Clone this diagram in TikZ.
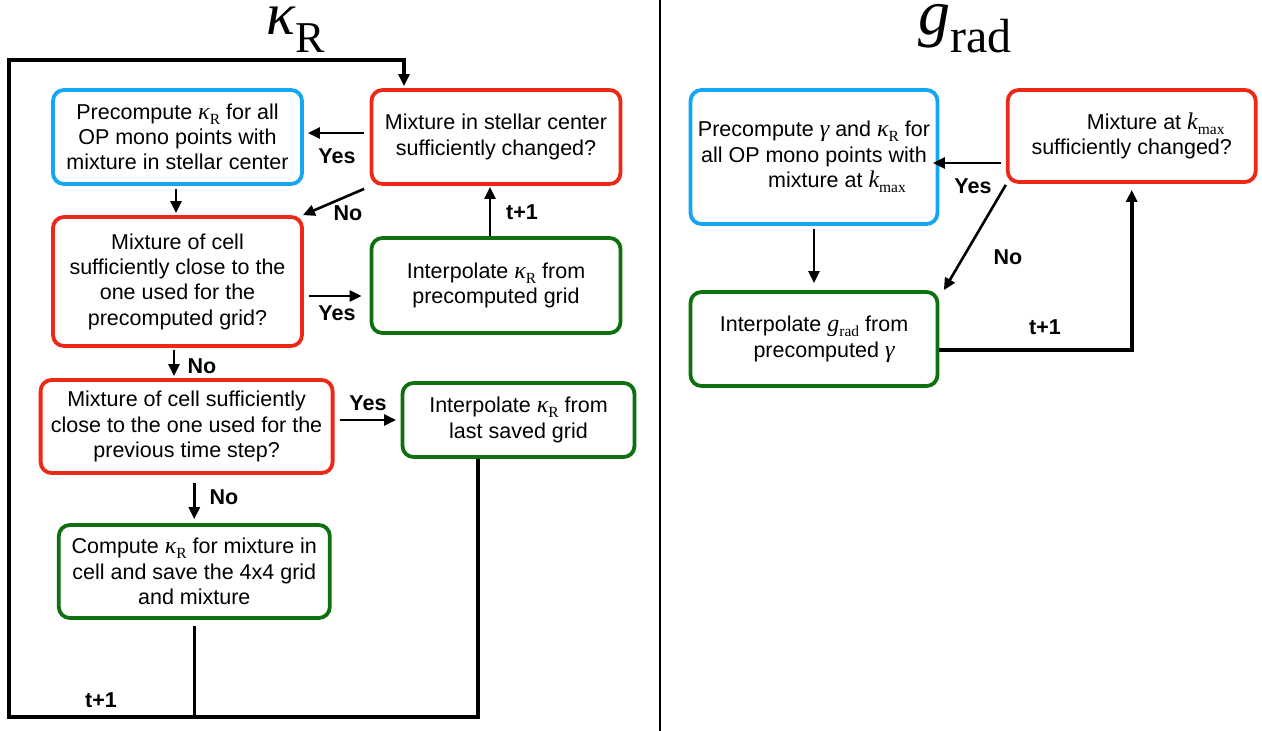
\documentclass[tikz,border=0pt]{standalone}
\usepackage{fontspec}
\setmainfont{Liberation Sans}
\newfontfamily\tms{Liberation Serif}
\usetikzlibrary{arrows.meta}
\definecolor{boxblue}{RGB}{20,165,245}
\definecolor{boxred}{RGB}{236,40,22}
\definecolor{boxgreen}{RGB}{14,112,14}
\newcommand{\mysubs}[1]{\raisebox{-5pt}{\tms\fontsize{15.5}{15.5}\selectfont #1}}
\newcommand{\mysym}[1]{{\tms\itshape\fontsize{24}{24}\selectfont #1}}
\newcommand{\mykR}{\mysym{κ}\mysubs{R}}
\newcommand{\mykmax}{\mysym{k}\mysubs{max}}
\newcommand{\mygrad}{\mysym{g}\mysubs{rad}}
\newcommand{\mygam}{\mysym{γ}}
\begin{document}
\begin{tikzpicture}[x=1pt,y=-1pt,
  box/.style={draw, line width=3.8pt, rounded corners=11pt, align=center,
    font=\fontsize{21.5}{25.3}\selectfont, inner sep=0pt, fill=white},
  bluebox/.style={box, draw=boxblue},
  redbox/.style={box, draw=boxred},
  greenbox/.style={box, draw=boxgreen},
  arr/.style={line width=2.6pt, -{Triangle[length=12pt,width=11pt]}},
  looparr/.style={line width=3.6pt, -{Triangle[length=12pt,width=11pt]}},
  loopline/.style={line width=3.6pt},
  lbl/.style={font=\fontsize{21.5}{21.5}\selectfont\bfseries, inner sep=0pt}
]
\fill[white] (0,0) rectangle (1262,731);
\useasboundingbox (0,0) rectangle (1262,731);

% divider
\draw[line width=1.2pt] (660,0) -- (660,731);

% titles
\node[anchor=base, inner sep=0pt] (T1) at (295.5,34)
  {\tms\fontsize{60}{60}\selectfont\itshape κ\raisebox{-18pt}{\upshape\fontsize{44}{44}\selectfont R}};
\node[anchor=base, inner sep=0pt] (T2) at (965,34)
  {\tms\fontsize{64}{64}\selectfont\itshape g\raisebox{-18pt}{\upshape\fontsize{48}{48}\selectfont rad}};

% left boxes
\node[bluebox, minimum width=249pt, minimum height=94pt] (A) at (177.5,137)
  {Precompute \mykR{} for all\\OP mono points with\\mixture in stellar center};
\node[redbox, minimum width=249pt, minimum height=94pt] (B) at (496,137)
  {Mixture in stellar center\\sufficiently changed?};
\node[redbox, minimum width=249pt, minimum height=129pt] (C) at (177.5,281.5)
  {Mixture of cell\\sufficiently close to the\\one used for the\\precomputed grid?};
\node[greenbox, minimum width=249pt, minimum height=95pt] (D) at (496,285.5)
  {Interpolate \mykR{} from\\precomputed grid};
\node[redbox, minimum width=292pt, minimum height=93pt] (E) at (186.6,426.5)
  {Mixture of cell sufficiently\\close to the one used for the\\previous time step?};
\node[greenbox, minimum width=232pt, minimum height=74pt] (F) at (518.5,420)
  {Interpolate \mykR{} from\\last saved grid};
\node[greenbox, minimum width=271pt, minimum height=93pt] (G) at (194.3,571.5)
  {Compute \mykR{} for mixture in\\cell and save the 4x4 grid\\and mixture};

% right boxes
\node[bluebox, minimum width=247pt, minimum height=134pt] (H) at (814,157)
  {Precompute \mygam{} and \mykR{} for\\all OP mono points with\\\hspace*{46pt}mixture at \mykmax};
\node[redbox, minimum width=248pt, minimum height=92pt] (I) at (1131.7,136)
  {\hspace*{48pt}Mixture at \mykmax\\sufficiently changed?};
\node[greenbox, minimum width=247pt, minimum height=94pt] (J) at (814,339)
  {Interpolate \mygrad{} from\\[1pt]\hspace*{20pt}precomputed \mygam};

% left connectors
\draw[arr] ([xshift=-5.5pt,yshift=4pt]B.west) -- ([xshift=4pt,yshift=4pt]A.east);
\draw[arr] ([xshift=-5.5pt,yshift=-3pt]B.south west) -- ([xshift=-1pt]C.north east);
\draw[arr, shorten <=3pt, shorten >=2pt] ([xshift=-1.5pt]A.south) -- ([xshift=-1.5pt]A.south |- C.north);
\draw[arr, shorten >=1pt] ([xshift=-6pt]D.north) -- ([xshift=-6pt]D.north |- B.south);
\coordinate (cd) at ([xshift=5pt,yshift=-14.5pt]C.east);
\draw[arr, shorten >=8pt] (cd) -- (cd -| D.west);
\draw[arr, shorten <=2pt, shorten >=2pt] ([xshift=-3.5pt]C.south) -- ([xshift=-3.5pt]C.south |- E.north);
\draw[arr, shorten <=5pt, shorten >=4.5pt] (E.east |- F.west) -- (F.west);
\draw[arr, shorten <=8pt, shorten >=4pt] (G.north |- E.south) -- (G.north);

% loop
\coordinate (bl) at (9,717);
\coordinate (tl) at (9,60);
\draw[looparr, shorten >=2pt] ([xshift=-40.5pt]F.south) |- (bl) -- (tl) -| ([xshift=-92pt]B.north);
\draw[loopline] ([yshift=-6pt]G.south) -- (G.south |- bl);

% right connectors
\coordinate (ih) at ([yshift=-27pt]I.west);
\draw[arr, shorten <=4.5pt, shorten >=-6.5pt] (ih) -- (ih -| H.east);
\draw[arr] ([yshift=-1pt]I.south west) -- ([xshift=4.5pt]J.north east);
\draw[arr, shorten <=3pt, shorten >=7pt] (H.south) -- (J.north);
\draw[looparr, shorten >=6pt] ([yshift=-11pt]J.east) -| (I.south);

% labels
\node[lbl] (l1) at (337,156) {Yes};
\node[lbl] (l2) at (348,213) {No};
\node[lbl] (l3) at (522,212) {t+1};
\node[lbl] (l4) at (337,313) {Yes};
\node[lbl] (l5) at (202,366) {No};
\node[lbl] (l6) at (368,403) {Yes};
\node[lbl] (l7) at (224,497) {No};
\node[lbl] (l8) at (101,700) {t+1};
\node[lbl] (l9) at (973,186) {Yes};
\node[lbl] (l10) at (1008,257) {No};
\node[lbl] (l11) at (1045,327) {t+1};
\end{tikzpicture}
\end{document}
